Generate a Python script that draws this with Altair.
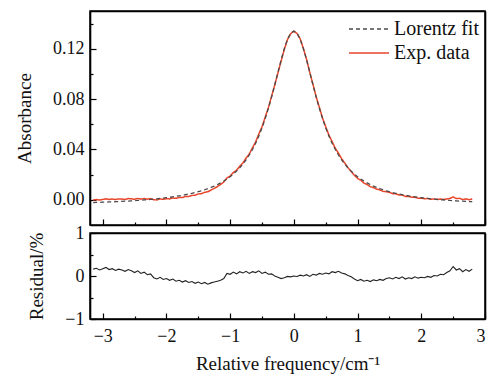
import altair as alt
import pandas as pd

# ---------------- data ----------------
x_vals = [-3.15, -3.10, -3.05, -3.00, -2.95, -2.90, -2.85, -2.80, -2.75, -2.70,
          -2.65, -2.60, -2.55, -2.50, -2.45, -2.40, -2.35, -2.30, -2.25, -2.20,
          -2.15, -2.10, -2.05, -2.00, -1.95, -1.90, -1.85, -1.80, -1.75, -1.70,
          -1.65, -1.60, -1.55, -1.50, -1.45, -1.40, -1.35, -1.30, -1.25, -1.20,
          -1.15, -1.10, -1.05, -1.00, -0.95, -0.90, -0.85, -0.80, -0.75, -0.70,
          -0.65, -0.60, -0.55, -0.50, -0.45, -0.40, -0.35, -0.30, -0.25, -0.20,
          -0.15, -0.10, -0.05, 0.00, 0.05, 0.10, 0.15, 0.20, 0.25, 0.30,
          0.35, 0.40, 0.45, 0.50, 0.55, 0.60, 0.65, 0.70, 0.75, 0.80,
          0.85, 0.90, 0.95, 1.00, 1.05, 1.10, 1.15, 1.20, 1.25, 1.30,
          1.35, 1.40, 1.45, 1.50, 1.55, 1.60, 1.65, 1.70, 1.75, 1.80,
          1.85, 1.90, 1.95, 2.00, 2.05, 2.10, 2.15, 2.20, 2.25, 2.30,
          2.35, 2.40, 2.45, 2.50, 2.55, 2.60, 2.65, 2.70, 2.75, 2.80]

fit_vals = [-0.0022, -0.0021, -0.0020, -0.0019, -0.0018, -0.0017, -0.0016, -0.0015, -0.0014, -0.0012,
            -0.0011, -0.0010, -0.0008, -0.0006, -0.0005, -0.0003, -0.0001, 0.0001, 0.0003, 0.0006,
            0.0008, 0.0011, 0.0014, 0.0017, 0.0020, 0.0024, 0.0028, 0.0032, 0.0036, 0.0041,
            0.0046, 0.0052, 0.0058, 0.0065, 0.0072, 0.0080, 0.0089, 0.0099, 0.0109, 0.0121,
            0.0135, 0.0149, 0.0166, 0.0184, 0.0205, 0.0228, 0.0254, 0.0284, 0.0318, 0.0356,
            0.0400, 0.0450, 0.0507, 0.0572, 0.0645, 0.0727, 0.0816, 0.0912, 0.1012, 0.1111,
            0.1201, 0.1275, 0.1323, 0.1340, 0.1323, 0.1275, 0.1201, 0.1111, 0.1012, 0.0912,
            0.0816, 0.0727, 0.0645, 0.0572, 0.0507, 0.0450, 0.0400, 0.0356, 0.0318, 0.0284,
            0.0254, 0.0228, 0.0205, 0.0184, 0.0166, 0.0149, 0.0135, 0.0121, 0.0109, 0.0099,
            0.0089, 0.0080, 0.0072, 0.0065, 0.0058, 0.0052, 0.0046, 0.0041, 0.0036, 0.0032,
            0.0028, 0.0024, 0.0020, 0.0017, 0.0014, 0.0011, 0.0008, 0.0006, 0.0003, 0.0001,
            -0.0001, -0.0003, -0.0005, -0.0006, -0.0008, -0.0010, -0.0011, -0.0012, -0.0014, -0.0015]

exp_vals = [-0.0001, 0.0002, -0.0002, 0.0003, 0.0008, 0.0003, 0.0006, 0.0002, 0.0007, 0.0006,
            0.0003, 0.0010, 0.0008, 0.0004, 0.0011, 0.0005, 0.0011, 0.0005, 0.0010, 0.0001,
            -0.0001, 0.0007, 0.0004, 0.0009, 0.0007, 0.0015, 0.0012, 0.0019, 0.0018, 0.0027,
            0.0026, 0.0035, 0.0036, 0.0047, 0.0049, 0.0060, 0.0064, 0.0078, 0.0091, 0.0105,
            0.0122, 0.0141, 0.0174, 0.0189, 0.0217, 0.0235, 0.0267, 0.0293, 0.0332, 0.0364,
            0.0413, 0.0460, 0.0523, 0.0580, 0.0657, 0.0732, 0.0823, 0.0912, 0.1008, 0.1103,
            0.1196, 0.1274, 0.1320, 0.1340, 0.1322, 0.1278, 0.1201, 0.1115, 0.1011, 0.0917,
            0.0819, 0.0735, 0.0650, 0.0581, 0.0514, 0.0463, 0.0410, 0.0370, 0.0327, 0.0291,
            0.0255, 0.0225, 0.0196, 0.0170, 0.0156, 0.0133, 0.0122, 0.0104, 0.0097, 0.0085,
            0.0079, 0.0067, 0.0064, 0.0060, 0.0049, 0.0048, 0.0038, 0.0038, 0.0027, 0.0027,
            0.0020, 0.0021, 0.0013, 0.0013, 0.0009, 0.0010, 0.0004, 0.0007, 0.0003, 0.0006,
            0.0003, 0.0007, 0.0011, 0.0023, 0.0010, 0.0012, 0.0002, 0.0008, 0.0000, 0.0006]

res_vals = [0.16, 0.18, 0.14, 0.17, 0.20, 0.15, 0.17, 0.13, 0.16, 0.14,
            0.11, 0.15, 0.12, 0.08, 0.12, 0.06, 0.09, 0.03, 0.05, -0.04,
            -0.07, -0.03, -0.08, -0.06, -0.10, -0.07, -0.12, -0.10, -0.14, -0.11,
            -0.15, -0.13, -0.17, -0.14, -0.18, -0.15, -0.19, -0.16, -0.14, -0.12,
            -0.10, -0.06, 0.06, 0.04, 0.09, 0.05, 0.10, 0.07, 0.11, 0.06,
            0.10, 0.08, 0.12, 0.06, 0.09, 0.04, 0.05, 0.00, -0.03, -0.06,
            -0.04, -0.01, -0.02, 0.00, -0.01, 0.02, 0.00, 0.03, -0.01, 0.04,
            0.02, 0.06, 0.04, 0.07, 0.05, 0.10, 0.08, 0.11, 0.07, 0.05,
            0.01, -0.02, -0.07, -0.11, -0.08, -0.12, -0.10, -0.13, -0.09, -0.11,
            -0.08, -0.10, -0.06, -0.04, -0.07, -0.03, -0.06, -0.02, -0.07, -0.04,
            -0.06, -0.02, -0.05, -0.03, -0.04, -0.01, -0.03, 0.01, 0.00, 0.04,
            0.03, 0.08, 0.12, 0.22, 0.14, 0.17, 0.10, 0.15, 0.11, 0.16]

series_names = ["Lorentz fit", "Exp. data"]
series_colors = ["#4a4a4a", "#e8452a"]

x_major = [-3, -2, -1, 0, 1, 2, 3]
x_minor = [-2.5, -1.5, -0.5, 0.5, 1.5, 2.5]
y_top_major = [0.0, 0.04, 0.08, 0.12]
y_top_minor = [0.02, 0.06, 0.10, 0.14]
y_bot_major = [-1.0, 0.0, 1.0]
y_bot_minor = [-0.5, 0.5]

# ---------------- tables ----------------
df_fit = pd.DataFrame({"x": x_vals, "y": fit_vals, "series": series_names[0]})
df_exp = pd.DataFrame({"x": x_vals, "y": exp_vals, "series": series_names[1]})
df_res = pd.DataFrame({"x": x_vals, "r": res_vals})

FONT = "Liberation Serif"
xscale = alt.Scale(domain=[-3.2, 3.0], nice=False, zero=False)
ytop_scale = alt.Scale(domain=[-0.02, 0.15], nice=False, zero=False)
ybot_scale = alt.Scale(domain=[-1, 1], nice=False, zero=False)


def legend():
    return alt.Legend(title=None, orient="none", legendX=268, legendY=7,
                      symbolType="M-2,0H2", symbolSize=400,
                      symbolStrokeWidth=1.5, labelFontSize=20,
                      labelFont=FONT, labelColor="#111",
                      rowPadding=3, labelOffset=14, padding=0)


color_enc = alt.Color("series:N",
                      scale=alt.Scale(domain=series_names, range=series_colors),
                      legend=legend())
dash_enc = alt.StrokeDash("series:N",
                          scale=alt.Scale(domain=series_names, range=[[4, 3], [1, 0]]),
                          legend=legend())


def major_x(labels=False, title=None):
    return alt.Axis(values=x_major, domain=False, grid=False, tickSize=6, offset=-6,
                    orient="bottom", tickColor="black", tickWidth=1.2, minExtent=0,
                    labels=labels, format="d", labelFontSize=18, labelFont=FONT,
                    labelColor="#111", labelPadding=8, labelOverlap=False,
                    titleFontSize=19, titleFont=FONT,
                    titleFontWeight="normal", titleColor="#111", titlePadding=9,
                    title=title)


def minor_x():
    return alt.Axis(values=x_minor, domain=False, grid=False, tickSize=3, offset=-3,
                    orient="bottom", tickColor="black", tickWidth=1.2, minExtent=0,
                    labels=False, title=None)


def major_y(values, label_expr, title, tpad):
    return alt.Axis(values=values, labelExpr=label_expr, domain=False, grid=False,
                    tickSize=6, offset=-6, orient="left", tickColor="black", tickWidth=1.2,
                    labelFontSize=18, labelFont=FONT, labelColor="#111", labelPadding=6,
                    labelOverlap=False, labelFlush=False,
                    title=title, titleFontSize=19, titleFont=FONT,
                    titleFontWeight="normal", titleColor="#111", titlePadding=tpad)


def minor_y(values):
    return alt.Axis(values=values, domain=False, grid=False, tickSize=3, offset=-3,
                    orient="left", tickColor="black", tickWidth=1.2,
                    labels=False, title=None)


def frame_axis(orient):
    return alt.Axis(orient=orient, domain=True, domainColor="black", domainWidth=1.6,
                    ticks=False, labels=False, grid=False, title=None, minExtent=0,
                    offset=0)


def frame_layers(df, ycol, yscale):
    a = alt.Chart(df).mark_line(strokeWidth=0, opacity=0).encode(
        x=alt.X("x:Q", scale=xscale, axis=frame_axis("top")),
        y=alt.Y(f"{ycol}:Q", scale=yscale, axis=frame_axis("right")),
    )
    b = alt.Chart(df).mark_line(strokeWidth=0, opacity=0).encode(
        x=alt.X("x:Q", scale=xscale, axis=frame_axis("bottom")),
        y=alt.Y(f"{ycol}:Q", scale=yscale, axis=frame_axis("left")),
    )
    return [a, b]


top_label_expr = "format(datum.value, '.2f')"
bot_label_expr = "datum.value < 0 ? '\u2212' + format(abs(datum.value), 'd') : format(datum.value, 'd')"

exp_line = alt.Chart(df_exp).mark_line(strokeWidth=1.5).encode(
    x=alt.X("x:Q", scale=xscale, axis=major_x()),
    y=alt.Y("y:Q", scale=ytop_scale, axis=major_y(y_top_major, top_label_expr, "Absorbance", 18)),
    color=color_enc,
    strokeDash=dash_enc,
)
fit_line = alt.Chart(df_fit).mark_line(strokeWidth=1.3).encode(
    x=alt.X("x:Q", scale=xscale, axis=minor_x()),
    y=alt.Y("y:Q", scale=ytop_scale, axis=minor_y(y_top_minor)),
    color=color_enc,
    strokeDash=dash_enc,
)
top = alt.layer(exp_line, fit_line, *frame_layers(df_exp, "y", ytop_scale)).resolve_axis(
    x="independent", y="independent").properties(width=395, height=214)

res_line = alt.Chart(df_res).mark_line(strokeWidth=1.1, color="#222").encode(
    x=alt.X("x:Q", scale=xscale, axis=major_x(labels=True, title="Relative frequency/cm⁻¹")),
    y=alt.Y("r:Q", scale=ybot_scale, axis=major_y(y_bot_major, bot_label_expr, "Residual/%", 18)),
)
res_ghost = alt.Chart(df_res).mark_line(strokeWidth=0, opacity=0).encode(
    x=alt.X("x:Q", scale=xscale, axis=minor_x()),
    y=alt.Y("r:Q", scale=ybot_scale, axis=minor_y(y_bot_minor)),
)
bottom = alt.layer(res_line, res_ghost, *frame_layers(df_res, "r", ybot_scale)).resolve_axis(
    x="independent", y="independent").properties(width=395, height=86)

chart = alt.vconcat(top, bottom, spacing=8, bounds="flush").properties(
    padding={"left": 14, "top": 10, "right": 7, "bottom": 5},
    background="white",
).configure(font=FONT).configure_view(stroke="black", strokeWidth=1.5, fill="white")

chart.save("out.html", embed_options={"renderer": "svg", "actions": False})
